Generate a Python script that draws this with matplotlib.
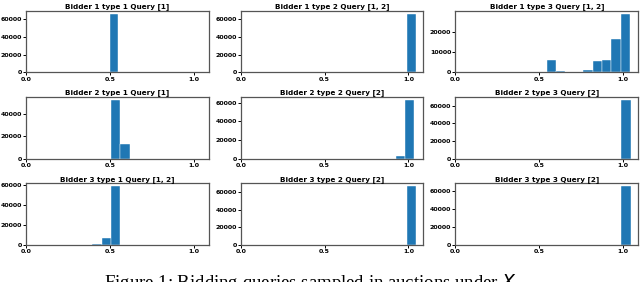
import numpy as np
import matplotlib
matplotlib.use("Agg")
import matplotlib.pyplot as plt

# panel titles, row by row
titles = ["Bidder 1 type 1 Query [1]", "Bidder 1 type 2 Query [1, 2]", "Bidder 1 type 3 Query [1, 2]",
          "Bidder 2 type 1 Query [1]", "Bidder 2 type 2 Query [2]", "Bidder 2 type 3 Query [2]",
          "Bidder 3 type 1 Query [1, 2]", "Bidder 3 type 2 Query [2]", "Bidder 3 type 3 Query [2]"]

# histogram bin edges and counts per panel
edges_b1t1 = [0.50, 0.55]
counts_b1t1 = [66500]
edges_b1t2 = [0.99, 1.045]
counts_b1t2 = [66500]
edges_b1t3 = [0.548, 0.602, 0.655, 0.709, 0.763, 0.821, 0.875, 0.930, 0.988, 1.042]
counts_b1t3 = [6000, 500, 300, 150, 1100, 5400, 6300, 16400, 28800]
edges_b2t1 = [0.505, 0.561, 0.617, 0.673]
counts_b2t1 = [52400, 13500, 150]
edges_b2t2 = [0.868, 0.924, 0.980, 1.036]
counts_b2t2 = [150, 2900, 62900]
edges_b2t3 = [0.99, 1.045]
counts_b2t3 = [66500]
edges_b3t1 = [0.340, 0.395, 0.450, 0.506, 0.561]
counts_b3t1 = [150, 1300, 6900, 59000]
edges_b3t2 = [0.99, 1.045]
counts_b3t2 = [66500]
edges_b3t3 = [0.99, 1.045]
counts_b3t3 = [65500]

all_edges = [edges_b1t1, edges_b1t2, edges_b1t3, edges_b2t1, edges_b2t2,
             edges_b2t3, edges_b3t1, edges_b3t2, edges_b3t3]
all_counts = [counts_b1t1, counts_b1t2, counts_b1t3, counts_b2t1, counts_b2t2,
              counts_b2t3, counts_b3t1, counts_b3t2, counts_b3t3]

fig, axes = plt.subplots(3, 3, figsize=(6.4, 2.82), dpi=100)
fig.subplots_adjust(left=0.041, right=0.997, top=0.962, bottom=0.131,
                    wspace=0.175, hspace=0.4)

for ax, title, edges, counts in zip(axes.flat, titles, all_edges, all_counts):
    edges = np.array(edges)
    ax.hist(edges[:-1], bins=edges, weights=counts, color="#1f77b4",
            edgecolor="white", linewidth=0.3)
    ax.set_xlim(0, 1.09)
    ax.set_xticks([0.0, 0.5, 1.0])
    ax.set_title(title, fontsize=5.2, fontweight="bold", pad=2)
    ax.tick_params(labelsize=4.5, length=2, width=0.7, pad=1)
    for lab in ax.get_xticklabels() + ax.get_yticklabels():
        lab.set_fontweight("bold")
    for sp in ax.spines.values():
        sp.set_linewidth(0.9)
        sp.set_color("#555555")

axes[0, 2].set_yticks([0, 10000, 20000])

fig.text(0.49, -0.005, "Figure 1: Bidding queries sampled in auctions under $X_2$",
         ha="center", va="center", fontsize=13.5, family="Liberation Serif")

fig.savefig("out.png", dpi=100)
